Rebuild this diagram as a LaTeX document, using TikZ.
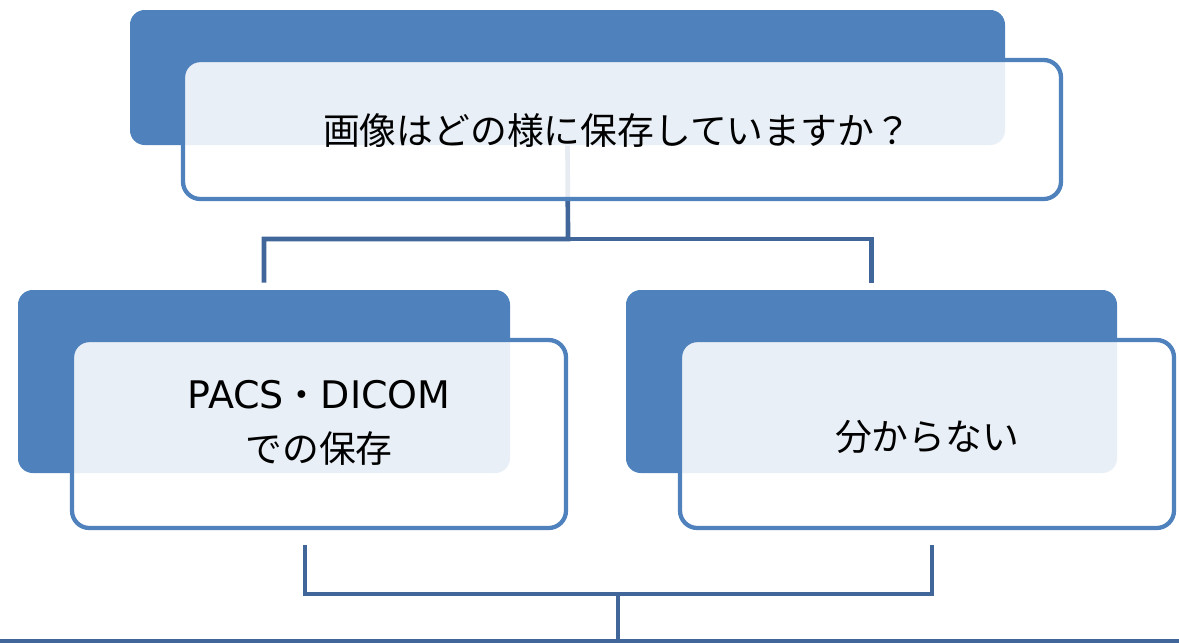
\documentclass[tikz,border=0pt]{standalone}
\usepackage{fontspec}
\setmainfont{Noto Sans CJK JP}
\newfontfamily\latinfont{DejaVu Sans}
\definecolor{boxblue}{HTML}{4F81BD}
\definecolor{linkblue}{HTML}{41679A}

\begin{document}
\begin{tikzpicture}[x=0.75pt, y=-0.75pt,
    backbox/.style={fill=boxblue, rounded corners=11pt, inner sep=0pt},
    frontbox/.style={draw=boxblue, line width=3.2pt, fill=white, fill opacity=0.88, rounded corners=13pt, inner sep=0pt},
    boxtext/.style={font=\fontsize{27.6}{41}\selectfont, align=center, text=black, inner sep=0pt},
    link/.style={draw=linkblue, line width=3.5pt}]
  \useasboundingbox (0,0) rectangle (1179,643);
  \node[backbox, minimum width=875*0.75pt, minimum height=135*0.75pt] (qback) at (567.5,77.5) {};
  \node[backbox, minimum width=492*0.75pt, minimum height=183*0.75pt] (lback) at (264,381.5) {};
  \node[backbox, minimum width=491*0.75pt, minimum height=183*0.75pt] (rback) at (871.5,381.5) {};
  \coordinate (qfork) at (568,239);
  \draw[link, shorten >=5.25pt] (qback.south) -- (qfork) -| (lback.north);
  \draw[link, shorten >=5.25pt] (qfork) -| (rback.north);
  \node[frontbox, minimum width=878*0.75pt, minimum height=139*0.75pt] (qfront) at (622,129.5) {};
  \node[frontbox, minimum width=494*0.75pt, minimum height=188*0.75pt] (lfront) at (319,434) {};
  \node[frontbox, minimum width=494*0.75pt, minimum height=188*0.75pt] (rfront) at (927,434) {};
  \node[boxtext] (qtext) at (617,131) {画像はどの様に保存していますか？};
  \node[boxtext] (ltext) at (319,423) {{\latinfont\fontsize{28.5}{41}\selectfont PACS}・{\latinfont\fontsize{28.5}{41}\selectfont DICOM}\\での保存};
  \node[boxtext] (rtext) at (927,437) {分からない};
  \coordinate (lup) at (305,545);
  \coordinate (rup) at (932,545);
  \coordinate (rlow) at (932,594);
  \coordinate (mtop) at (618,594);
  \coordinate (mlow) at (618,641);
  \coordinate (bleft) at (0,641);
  \coordinate (bright) at (1179,641);
  \draw[link] (lup) |- (rlow) -- (rup);
  \draw[link] (mtop) -- (mlow);
  \draw[link] (bleft) -- (bright);
\end{tikzpicture}
\end{document}
